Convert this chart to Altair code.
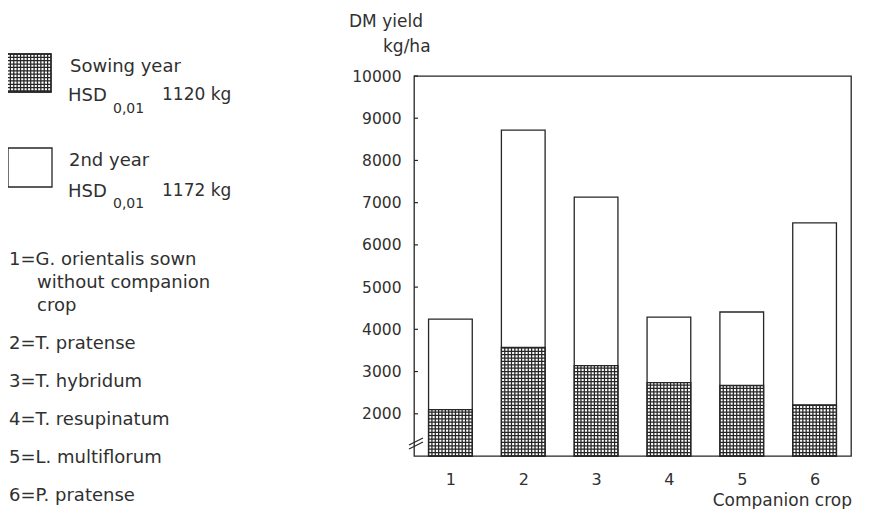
import altair as alt
import numpy as np
import pandas as pd

# ---- data ----
crops = [1, 2, 3, 4, 5, 6]
sowing_year = [2100, 3570, 3140, 2740, 2670, 2210]     # kg/ha, top of hatched part
total_2nd = [4240, 8720, 7130, 4290, 4410, 6520]       # kg/ha, top of white part
y_ticks = [2000, 3000, 4000, 5000, 6000, 7000, 8000, 9000, 10000]
axis_base = 1000

legend_lines = [
    "1=G. orientalis sown",
    "without companion",
    "crop",
    "2=T. pratense",
    "3=T. hybridum",
    "4=T. resupinatum",
    "5=L. multiflorum",
    "6=P. pratense",
]

FONT = "DejaVu Sans"
INK = "#262626"
TXT = "#303030"
HALF = 0.3

bars = pd.DataFrame({
    "crop": crops,
    "xl": [c - HALF for c in crops],
    "xr": [c + HALF for c in crops],
    "base": [axis_base] * len(crops),
    "sow": sowing_year,
    "tot": total_2nd,
})

# cross-hatch inside the sowing-year part, derived from the data above
hh, vv = [], []
for c, s in zip(crops, sowing_year):
    for yv in np.arange(axis_base + 80, s, 80):
        hh.append({"xl": c - HALF, "xr": c + HALF, "y": float(yv)})
    for j in range(1, 13):
        vv.append({"x": c - HALF + j * (2 * HALF) / 13, "y0": axis_base, "y1": s})
hatch_h = pd.DataFrame(hh)
hatch_v = pd.DataFrame(vv)
ticks = pd.DataFrame({"v": y_ticks})

xscale = alt.Scale(domain=[0.5, 6.5], nice=False, zero=False)
yscale = alt.Scale(domain=[1000, 10000], nice=False, zero=False)
xaxis = alt.Axis(values=crops, format="d", ticks=False, domain=False, grid=False,
                 labelPadding=15, labelFontSize=16, labelFont=FONT, labelColor=TXT,
                 title=None)
yaxis = alt.Axis(values=y_ticks, format="d", ticks=False, tickSize=0, domain=False,
                 grid=False, labelPadding=13, labelFontSize=15.5, labelFont=FONT,
                 labelColor=TXT, title=None)


def X(f):
    return alt.X(f, type="quantitative", scale=xscale, axis=xaxis)


def Y(f):
    return alt.Y(f, type="quantitative", scale=yscale, axis=yaxis)


white = alt.Chart(bars).mark_rect(fill="white", stroke=INK, strokeWidth=1.3).encode(
    x=X("xl"), x2="xr", y=Y("base"), y2="tot")
h_rules = alt.Chart(hatch_h).mark_rule(color=INK, strokeWidth=1.25).encode(
    x=X("xl"), x2="xr", y=Y("y"))
v_rules = alt.Chart(hatch_v).mark_rule(color=INK, strokeWidth=1.25).encode(
    x=X("x"), y=Y("y0"), y2="y1")
sow_outline = alt.Chart(bars).mark_rect(fillOpacity=0, stroke=INK, strokeWidth=1.3).encode(
    x=X("xl"), x2="xr", y=Y("base"), y2="sow")
tick_marks = alt.Chart(ticks).mark_rule(color=INK, strokeWidth=1.2).encode(
    y=Y("v"), x=alt.value(0), x2=alt.value(4))

one = pd.DataFrame({"k": [0]})


def txt(s, x, y, size=18, align="left"):
    return alt.Chart(one).mark_text(text=s, align=align, baseline="alphabetic",
                                    fontSize=size, font=FONT, color=TXT).encode(
        x=alt.value(x), y=alt.value(y))


def seg(x1, y1, x2, y2, w=1.2):
    return alt.Chart(one).mark_rule(color=INK, strokeWidth=w).encode(
        x=alt.value(x1), y=alt.value(y1), x2=alt.value(x2), y2=alt.value(y2))


texts = [
    txt("DM yield", -65, -49, 17),
    txt("kg/ha", -31, -24, 17),
    txt("Companion crop", 438, 430, 17, "right"),
    txt("Sowing year", -344, -4),
    txt("HSD", -346, 25),
    txt("0,01", -301, 37, 14),
    txt("1120 kg", -252, 24, 17),
    txt("2nd year", -345, 90),
    txt("HSD", -346, 121),
    txt("0,01", -301, 132, 14),
    txt("1172 kg", -252, 120, 17),
]
list_x = [-405, -377, -377, -405, -405, -405, -405, -405]
list_y = [189, 212, 235, 273, 311, 349, 387, 425]
for s, lx, ly in zip(legend_lines, list_x, list_y):
    texts.append(txt(s, lx, ly))

breaks = [seg(-5, 369, 9, 362), seg(-5, 373, 9, 366)]

# legend swatches
sw1 = alt.Chart(one).mark_rect(fill="white", stroke=INK, strokeWidth=1.3).encode(
    x=alt.value(-407), x2=alt.value(-363), y=alt.value(-22), y2=alt.value(16))
sw2 = alt.Chart(one).mark_rect(fill="white", stroke=INK, strokeWidth=1.3).encode(
    x=alt.value(-406), x2=alt.value(-362), y=alt.value(72), y2=alt.value(111))
sw_rows = []
for k in range(1, 12):
    yy = -22 + k * 38 / 11.3
    sw_rows.append({"x": -407, "x2": -363, "y": yy, "y2": yy})
for j in range(1, 13):
    xx = -407 + j * 44 / 13
    sw_rows.append({"x": xx, "x2": xx, "y": -22, "y2": 16})
sw_hatch = alt.Chart(pd.DataFrame(sw_rows)).mark_rule(color=INK, strokeWidth=1.25).encode(
    x=alt.X("x:Q", scale=None), x2="x2:Q", y=alt.Y("y:Q", scale=None), y2="y2:Q")
sw1_outline = alt.Chart(one).mark_rect(fillOpacity=0, stroke=INK, strokeWidth=1.3).encode(
    x=alt.value(-407), x2=alt.value(-363), y=alt.value(-22), y2=alt.value(16))

main = alt.layer(white, h_rules, v_rules, sow_outline, tick_marks, *breaks, *texts, sw1, sw2)
legend = alt.layer(sw_hatch, sw1_outline)

chart = alt.layer(main, legend).resolve_scale(x="independent", y="independent").properties(
    width=437, height=380,
    padding={"left": 406, "top": 68, "right": 12, "bottom": 55},
    autosize=alt.AutoSizeParams(type="none"),
    background="white",
).configure_view(stroke=INK, strokeWidth=1.3)

chart.save("out.html", embed_options={"renderer": "svg", "actions": False})
